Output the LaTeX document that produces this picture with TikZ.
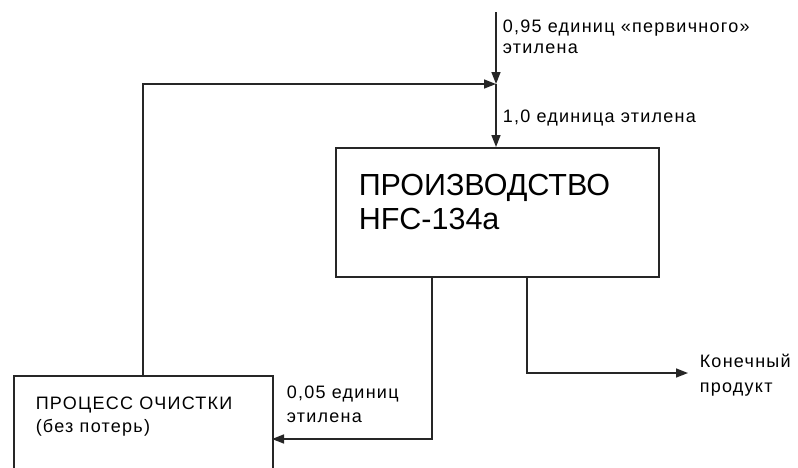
\documentclass[tikz,border=0pt]{standalone}
\usepackage{fontspec}
\setmainfont{Liberation Sans}
\newfontfamily\smallf[LetterSpace=7]{Liberation Sans}
\usetikzlibrary{arrows.meta}
\begin{document}
\begin{tikzpicture}[x=1pt,y=-1pt,
  line width=1.5pt,
  boxstyle/.style={draw=black!85, line width=1.5pt, inner sep=0pt, anchor=north west},
  lbl/.style={inner sep=0pt, anchor=base west, font=\smallf\fontsize{18}{21}\selectfont},
  big/.style={inner sep=0pt, anchor=base west, font=\fontsize{30.5}{34}\selectfont},
  arr/.style={draw=black!85, line width=1.5pt, -{Triangle[length=12pt,width=9pt]}},
  ln/.style={draw=black!85, line width=1.5pt}]
\useasboundingbox (0,0) rectangle (798,467);
\clip (0,0) rectangle (798,467);
% boxes
\node[boxstyle, minimum width=323pt, minimum height=129pt] (prod) at (335,147) {};
\node[boxstyle, minimum width=259pt, minimum height=120pt] (clean) at (13,375) {};
% coordinates
\coordinate (src) at (496,12);
\coordinate (j) at (496,84);
\coordinate (cu) at (143,375);
\coordinate (o1) at (432,276);
\coordinate (cin) at (272,439);
\coordinate (o2) at (527,276);
\coordinate (pout) at (688,373);
% connectors
\draw[arr] (src) -- (j);
\draw[arr] (cu) |- (j);
\draw[arr] (j) -- (j |- prod.north);
\draw[arr] (o1) |- (cin);
\draw[arr] (o2) |- (pout);
% texts
\node[lbl] (t1) at (502,32) {0,95 единиц «первичного»};
\node[lbl] (t2) at (502,53) {этилена};
\node[lbl] (t3) at (502,122) {1,0 единица этилена};
\node[big] (p1) at (358,195) {ПРОИЗВОДСТВО};
\node[big] (p2) at (358,229) {HFC-134a};
\node[lbl] (c1) at (35,409) {ПРОЦЕСС ОЧИСТКИ};
\node[lbl] (c2) at (35,432) {(без потерь)};
\node[lbl] (r1) at (286,398) {0,05 единиц};
\node[lbl] (r2) at (286,422) {этилена};
\node[lbl] (k1) at (699,367) {Конечный};
\node[lbl] (k2) at (699,392) {продукт};
\end{tikzpicture}
\end{document}
